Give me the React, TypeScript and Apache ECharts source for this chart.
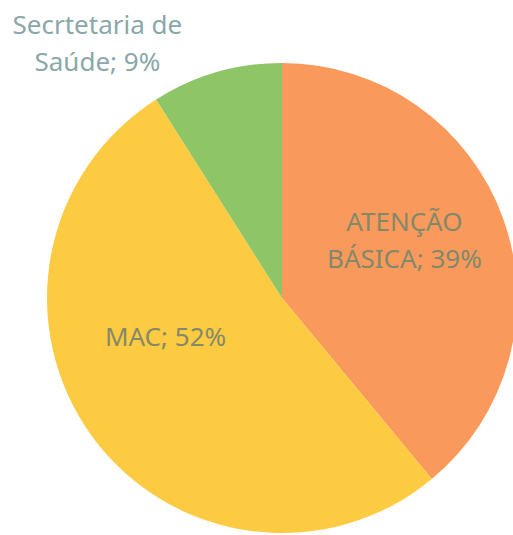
import React, { useEffect, useRef } from "react";
import * as echarts from "echarts";

const categories = ["ATENÇÃO\nBÁSICA", "MAC", "Secrtetaria de\nSaúde"];
const percents = [39, 52, 9];
const colors = ["#F99A5C", "#FDCB42", "#8EC566"];
const labelColors = ["#82896B", "#85896A", "#8AA8A8"];
const labelShift = [
  [9, -18],
  [-19, -33],
  [-151, -140],
];

export default function App() {
  const ref = useRef<HTMLDivElement>(null);
  useEffect(() => {
    if (!ref.current) return;
    const chart = echarts.init(ref.current, undefined, { renderer: "svg" });
    chart.setOption({
      animation: false,
      backgroundColor: "#ffffff",
      series: [
        {
          type: "pie",
          center: [282, 298],
          radius: 235,
          startAngle: 90,
          clockwise: true,
          avoidLabelOverlap: false,
          silent: true,
          itemStyle: { borderWidth: 0 },
          label: {
            show: true,
            position: "inside",
            formatter: (p: any) => `${p.name}; ${p.value}%`,
            fontFamily: "Noto Sans",
            fontSize: 26,
            lineHeight: 37,
            align: "center",
          },
          labelLine: { show: false },
          labelLayout: (params: any) => ({
            dx: labelShift[params.dataIndex][0],
            dy: labelShift[params.dataIndex][1],
          }),
          data: categories.map((name, i) => ({
            name,
            value: percents[i],
            itemStyle: { color: colors[i] },
            label: { color: labelColors[i] },
          })),
        },
      ],
    });
    return () => chart.dispose();
  }, []);
  return (
    <div
      ref={ref}
      style={{ position: "fixed", left: 0, top: 0, width: 513, height: 535 }}
    />
  );
}
